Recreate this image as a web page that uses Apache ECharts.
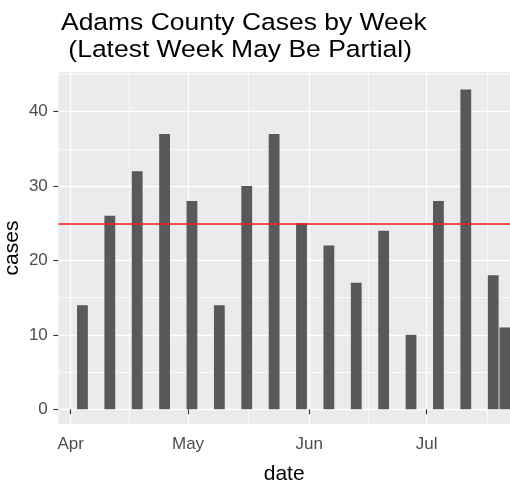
<!DOCTYPE html>
<html>
<head>
    <meta charset="utf-8">
    <title>Adams County Cases by Week</title>
    <script src="https://cdn.jsdelivr.net/npm/echarts@6/dist/echarts.min.js"></script>
    <style>
        html, body { margin: 0; padding: 0; background: #fff; }
    </style>
</head>
<body>
    <div id="main" style="width: 510px;height:486px;"></div>
    <script type="text/javascript">
        // weekly case counts (last week is partial)
        var weekDates = [
            '2020-04-04', '2020-04-11', '2020-04-18', '2020-04-25',
            '2020-05-02', '2020-05-09', '2020-05-16', '2020-05-23', '2020-05-30',
            '2020-06-06', '2020-06-13', '2020-06-20', '2020-06-27',
            '2020-07-04', '2020-07-11', '2020-07-18', '2020-07-21'
        ];
        var weekCases = [14, 26, 32, 37, 28, 14, 30, 37, 25, 22, 17, 24, 10, 28, 43, 18, 11];
        var referenceLevel = 25;

        var monthStarts = ['2020-04-01', '2020-05-01', '2020-06-01', '2020-07-01', '2020-08-01'];
        var monthNames = ['Jan', 'Feb', 'Mar', 'Apr', 'May', 'Jun', 'Jul', 'Aug', 'Sep', 'Oct', 'Nov', 'Dec'];
        var yMajor = [0, 10, 20, 30, 40];
        var yMinor = [5, 15, 25, 35, 45];

        var DAY = 86400000;
        function t(s) {
            var p = s.split('-');
            return new Date(+p[0], +p[1] - 1, +p[2]).getTime();
        }

        var monthTicks = monthStarts.map(t);
        var monthMids = [];
        for (var i = 0; i < monthTicks.length - 1; i++) {
            monthMids.push((monthTicks[i] + monthTicks[i + 1]) / 2);
        }
        var xMin = monthTicks[0] - 3.17 * DAY;
        var xMax = monthTicks[0] + 112.3 * DAY;

        var data = weekDates.map(function (d, i) { return [t(d), weekCases[i]]; });

        var chartDom = document.getElementById('main');
        var myChart = echarts.init(chartDom);
        var option;

        var font = 'Liberation Sans, Arial, sans-serif';

        option = {
            animation: false,
            // title as graphic text so it can be stretched a little like the original
            graphic: [{
                type: 'text',
                x: 61,
                y: 10,
                scaleX: 1.08,
                style: {
                    text: 'Adams County Cases by Week\n (Latest Week May Be Partial)',
                    font: '24.5px ' + font,
                    fill: '#000',
                    lineHeight: 27,
                    verticalAlign: 'top'
                }
            }],
            grid: {
                left: 58.3,
                top: 71.7,
                width: 451.7,
                height: 352.6,
                outerBoundsMode: 'none',
                containLabel: false,
                show: true,
                backgroundColor: '#EBEBEB',
                borderWidth: 0
            },
            xAxis: [{
                type: 'value',
                min: xMin,
                max: xMax,
                name: 'date',
                nameLocation: 'middle',
                nameGap: 39,
                nameMoveOverlap: false,
                nameTextStyle: { fontFamily: font, fontSize: 21, color: '#000' },
                axisLine: { show: false },
                axisTick: {
                    show: true,
                    length: 5,
                    lineStyle: { color: '#333', width: 1.1 },
                    customValues: monthTicks
                },
                axisLabel: {
                    customValues: monthTicks,
                    margin: 12,
                    fontFamily: font,
                    fontSize: 17,
                    color: '#4D4D4D',
                    formatter: function (v) { return monthNames[new Date(v).getMonth()]; }
                },
                splitLine: { show: true, lineStyle: { color: '#fff', width: 1.3 } }
            }, {
                type: 'value',
                min: xMin,
                max: xMax,
                position: 'bottom',
                axisLine: { show: false },
                axisTick: { show: false, customValues: monthMids },
                axisLabel: { show: false, customValues: monthMids },
                splitLine: { show: true, lineStyle: { color: '#fff', width: 0.7 } }
            }],
            yAxis: [{
                type: 'value',
                min: -2.02,
                max: 45.38,
                name: 'cases',
                nameLocation: 'middle',
                nameRotate: 90,
                nameGap: 36,
                nameMoveOverlap: false,
                nameTextStyle: { fontFamily: font, fontSize: 21, color: '#000' },
                axisLine: { show: false },
                axisTick: {
                    show: true,
                    length: 5,
                    lineStyle: { color: '#333', width: 1.1 },
                    customValues: yMajor
                },
                axisLabel: {
                    customValues: yMajor,
                    margin: 10.5,
                    fontFamily: font,
                    fontSize: 17,
                    color: '#4D4D4D'
                },
                splitLine: { show: true, lineStyle: { color: '#fff', width: 1.3 } }
            }, {
                type: 'value',
                min: -2.02,
                max: 45.38,
                position: 'left',
                axisLine: { show: false },
                axisTick: { show: false, customValues: yMinor },
                axisLabel: { show: false, customValues: yMinor },
                splitLine: { show: true, lineStyle: { color: '#fff', width: 0.7 } }
            }],
            series: [{
                type: 'bar',
                xAxisIndex: 0,
                yAxisIndex: 0,
                data: data,
                barWidth: 10.8,
                itemStyle: { color: '#595959' },
                markLine: {
                    silent: true,
                    symbol: 'none',
                    label: { show: false },
                    lineStyle: { color: '#FF1A1A', width: 1.6, type: 'solid' },
                    data: [{ yAxis: referenceLevel }]
                }
            }]
        };

        option && myChart.setOption(option);
    </script>
</body>
</html>
